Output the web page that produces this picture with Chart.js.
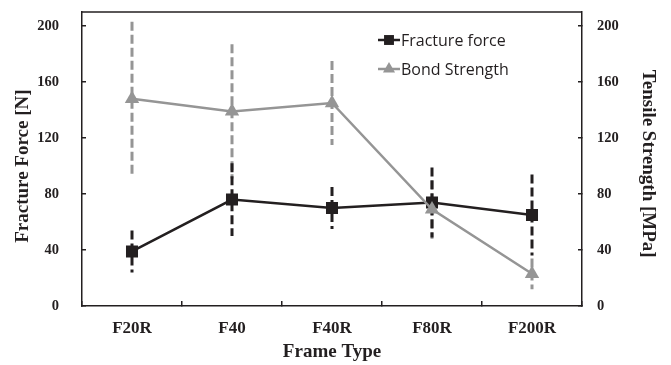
<!DOCTYPE html>
<html lang="en">
<head>
    <meta charset="UTF-8">
    <title>Fracture force and Bond Strength by Frame Type</title>
    <script src="https://cdn.jsdelivr.net/npm/chart.js"></script>
    <style>
        html, body { margin: 0; padding: 0; background: #fff; }
        #wrap { width: 671px; height: 365px; }
    </style>
</head>
<body>
<div id="wrap"><canvas id="grafico" width="671" height="365"></canvas></div>
<script>
    // values
    const frameTypes = ['F20R', 'F40', 'F40R', 'F80R', 'F200R'];
    const fractureForce = [39, 76, 70, 74, 65];
    const fractureErr = [15, 26, 15, 25, 29];
    const bondStrength = [148, 139, 145, 69, 23];
    const bondErr = [55, 48, 30, 21, 11];
    const yTicks = [0, 40, 80, 120, 160, 200];

    const BLACK = '#231f20';
    const GRAY = '#959595';
    const serif = 'Liberation Serif, Times New Roman, serif';

    function errorBars(ctx, xs, ys, values, errs, color) {
        ctx.save();
        ctx.strokeStyle = color;
        ctx.lineWidth = 3;
        ctx.setLineDash([9, 4]);
        values.forEach((v, i) => {
            const x = xs.getPixelForValue(i);
            ctx.beginPath();
            ctx.moveTo(x, ys.getPixelForValue(v + errs[i]));
            ctx.lineTo(x, ys.getPixelForValue(v - errs[i]));
            ctx.stroke();
        });
        ctx.restore();
    }

    const errorPlugin = {
        id: 'errorPlugin',
        beforeDatasetsDraw(chart) {
            const { ctx, scales } = chart;
            errorBars(ctx, scales.x, scales.y2, bondStrength, bondErr, GRAY);
            errorBars(ctx, scales.x, scales.y, fractureForce, fractureErr, BLACK);
        }
    };

    // top edge of the frame + legend inside the plot
    const framePlugin = {
        id: 'framePlugin',
        afterDatasetsDraw(chart) {
            const { ctx, chartArea: a } = chart;
            ctx.save();
            ctx.strokeStyle = BLACK;
            ctx.lineWidth = 1.5;
            ctx.beginPath();
            ctx.moveTo(a.left, a.top);
            ctx.lineTo(a.right, a.top);
            ctx.stroke();

            const items = [
                { text: 'Fracture force', color: BLACK, style: 'rect', r: 7, y: a.top + 28 },
                { text: 'Bond Strength', color: GRAY, style: 'triangle', r: 7, y: a.top + 57 }
            ];
            const lx = a.left + 296;
            items.forEach(it => {
                ctx.strokeStyle = it.color;
                ctx.fillStyle = it.color;
                ctx.lineWidth = 2.5;
                ctx.beginPath();
                ctx.moveTo(lx, it.y);
                ctx.lineTo(lx + 22, it.y);
                ctx.stroke();
                Chart.helpers.drawPoint(ctx, { pointStyle: it.style, radius: it.r, borderWidth: 0 }, lx + 11, it.y);
                ctx.fillStyle = BLACK;
                ctx.font = '16px "Open Sans"';
                ctx.textBaseline = 'middle';
                ctx.textAlign = 'left';
                ctx.fillText(it.text, lx + 23, it.y + 1);
            });
            ctx.restore();
        }
    };

    function yAxis(position, title, width, pad) {
        return {
            position: position,
            min: 0,
            max: 210,
            afterBuildTicks: s => { s.ticks = yTicks.map(v => ({ value: v })); },
            afterFit: s => { s.width = width; s.paddingTop = 0; s.paddingBottom = 0; },
            grid: { drawOnChartArea: false, drawTicks: true, tickLength: -4, color: BLACK, lineWidth: 1.5 },
            border: { display: true, color: BLACK, width: 1.5 },
            ticks: { color: BLACK, padding: pad, font: { family: serif, size: 14.5, weight: 'bold' } },
            title: {
                display: true, text: title, color: BLACK,
                font: { family: serif, size: 19, weight: 'bold' },
                padding: { top: 11.5, bottom: 0 }
            }
        };
    }

    new Chart(document.getElementById('grafico'), {
        type: 'line',
        data: {
            labels: frameTypes,
            datasets: [
                {
                    label: 'Fracture force',
                    data: fractureForce,
                    yAxisID: 'y',
                    order: 1,
                    borderColor: BLACK,
                    backgroundColor: BLACK,
                    borderWidth: 2.5,
                    pointStyle: 'rect',
                    pointRadius: 8.5,
                    pointBorderWidth: 0,
                    tension: 0
                },
                {
                    label: 'Bond Strength',
                    data: bondStrength,
                    yAxisID: 'y2',
                    order: 0,
                    borderColor: GRAY,
                    backgroundColor: GRAY,
                    borderWidth: 2.5,
                    pointStyle: 'triangle',
                    pointRadius: 8.3,
                    pointBorderWidth: 0,
                    tension: 0
                }
            ]
        },
        options: {
            responsive: false,
            animation: false,
            devicePixelRatio: 1,
            layout: { padding: { top: 12, left: 0, right: 0, bottom: 0 } },
            plugins: {
                legend: { display: false },
                tooltip: { enabled: false }
            },
            scales: {
                x: {
                    offset: true,
                    afterFit: s => { s.height = 59; s.paddingLeft = 0; s.paddingRight = 0; },
                    grid: { offset: true, drawOnChartArea: false, drawTicks: true, tickLength: -5, color: BLACK, lineWidth: 1.5 },
                    border: { display: true, color: BLACK, width: 1.5 },
                    ticks: { color: BLACK, padding: 17, font: { family: serif, size: 17, weight: 'bold' } },
                    title: {
                        display: true, text: 'Frame Type', color: BLACK,
                        font: { family: serif, size: 19, weight: 'bold' },
                        padding: { top: 0, bottom: 1.5 }
                    }
                },
                // the spaces nudge the rotated titles a little lower, as in the figure
                y: yAxis('left', 'Fracture Force [N]   ', 82, 27),
                y2: yAxis('right', '  Tensile Strength [MPa]', 89, 19)
            }
        },
        plugins: [errorPlugin, framePlugin]
    });
</script>
</body>
</html>
